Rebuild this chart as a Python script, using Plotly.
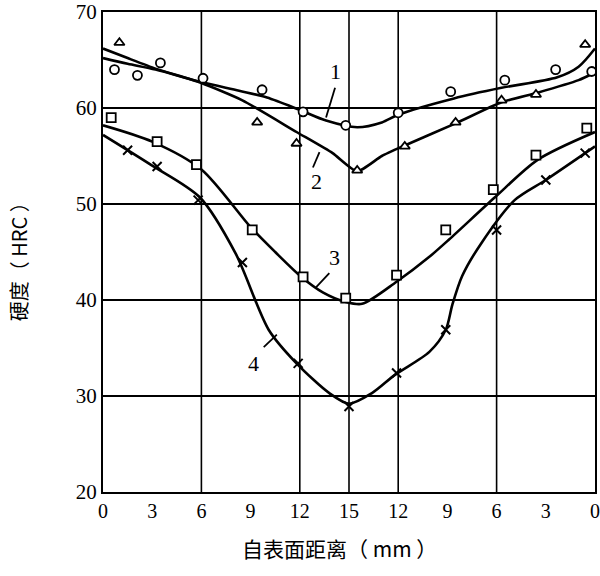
import plotly.graph_objects as go

# ---- data ----
tick_pos = [0, 3, 6, 9, 12, 15, 18, 21, 24, 27, 30]
tick_text = ["0", "3", "6", "9", "12", "15", "12", "9", "6", "3", "0"]
grid_x = [6, 12, 15, 18, 24]

# fitted curves
c1_x = [0, 1.5, 3.2, 6, 8.3, 10, 12, 13.6, 15.5, 17, 18, 21.4, 24.3, 27.7, 29, 30]
c1_y = [65.2, 64.6, 64.0, 62.7, 61.8, 61.1, 59.8, 58.7, 58.0, 58.5, 59.3, 61.0, 62.1, 63.2, 64.3, 66.2]
c2_x = [0, 1.5, 3.2, 6, 8.5, 11.8, 14, 15.5, 17, 18.4, 21.5, 24.3, 26.5, 29, 30]
c2_y = [66.2, 65.2, 64.1, 62.6, 60.8, 57.5, 55.3, 53.4, 55.0, 56.1, 58.4, 60.6, 61.6, 62.9, 63.7]
c3_x = [0, 3, 6, 9, 10.5, 12.1, 13.4, 14.8, 15.8, 17.9, 19.9, 21.1, 23.9, 26.5, 30]
c3_y = [58.2, 56.5, 53.6, 47.6, 45.0, 42.4, 40.8, 39.8, 39.6, 41.9, 44.5, 46.3, 50.7, 54.6, 57.5]
c4_x = [0, 3, 5.9, 8.1, 10.1, 11.8, 13.8, 15.0, 16.4, 17.8, 19.9, 20.9, 21.3, 21.9, 23.1, 25.1, 27, 30]
c4_y = [57.2, 54.0, 50.7, 44.8, 36.9, 33.4, 30.3, 29.2, 30.3, 32.2, 34.6, 36.9, 39.5, 42.5, 46.0, 50.4, 52.5, 56.0]

# measured points
circ_x = [0.7, 2.1, 3.5, 6.1, 9.7, 12.2, 14.8, 18.0, 21.2, 24.5, 27.6, 29.8]
circ_y = [64.0, 63.4, 64.7, 63.1, 61.9, 59.6, 58.2, 59.5, 61.7, 62.9, 64.0, 63.8]
tri_x = [1.0, 9.4, 11.8, 15.5, 18.4, 21.5, 24.3, 26.4, 29.4]
tri_y = [66.8, 58.5, 56.3, 53.5, 56.0, 58.5, 60.8, 61.4, 66.6]
sq_x = [0.5, 3.3, 5.7, 9.1, 12.2, 14.8, 17.9, 20.9, 23.8, 26.4, 29.5]
sq_y = [59.0, 56.5, 54.1, 47.3, 42.4, 40.2, 42.6, 47.3, 51.5, 55.1, 57.9]
xm_x = [1.5, 3.3, 5.8, 8.5, 11.9, 15.0, 17.9, 20.9, 24.0, 27.0, 29.4]
xm_y = [55.6, 53.9, 50.4, 43.9, 33.4, 28.9, 32.4, 36.9, 47.3, 52.5, 55.3]

# curve labels: (text, text x, text y, leader x0, y0, x1, y1)
labels = [
    ("1", 14.2, 63.8, 14.15, 62.1, 13.6, 59.0),
    ("2", 13.0, 52.3, 12.8, 53.8, 13.2, 55.4),
    ("3", 14.1, 44.4, 13.8, 42.8, 13.0, 41.35),
    ("4", 9.2, 33.4, 9.8, 35.1, 10.6, 36.4),
]

fig = go.Figure()
curves = [(c1_x, c1_y, 0.8), (c2_x, c2_y, 0.55), (c3_x, c3_y, 0.8), (c4_x, c4_y, 0.8)]
for cx, cy, sm in curves:
    fig.add_trace(go.Scatter(x=cx, y=cy, mode="lines",
                             line=dict(color="black", width=2.6, shape="spline", smoothing=sm),
                             showlegend=False, hoverinfo="skip"))

mk = dict(color="white", size=9, line=dict(color="black", width=1.8))
fig.add_trace(go.Scatter(x=circ_x, y=circ_y, mode="markers",
                         marker=dict(symbol="circle", **mk), showlegend=False))
fig.add_trace(go.Scatter(x=tri_x, y=tri_y, mode="markers",
                         marker=dict(symbol="triangle-up", **mk), showlegend=False))
fig.add_trace(go.Scatter(x=sq_x, y=sq_y, mode="markers",
                         marker=dict(symbol="square", **mk), showlegend=False))
fig.add_trace(go.Scatter(x=xm_x, y=xm_y, mode="markers",
                         marker=dict(symbol="x-thin", size=9, color="black",
                                     line=dict(color="black", width=2)), showlegend=False))

shapes = []
for gx in grid_x:
    shapes.append(dict(type="line", xref="x", yref="paper", x0=gx, x1=gx, y0=0, y1=1,
                       line=dict(color="black", width=1.6), layer="below"))
annotations = []
for t, tx, ty, lx0, ly0, lx1, ly1 in labels:
    annotations.append(dict(x=tx, y=ty, xref="x", yref="y", text=t, showarrow=False,
                            font=dict(family="Liberation Serif", size=22, color="black")))
    shapes.append(dict(type="line", xref="x", yref="y", x0=lx0, y0=ly0, x1=lx1, y1=ly1,
                       line=dict(color="black", width=1.8)))

annotations.append(dict(x=-0.172, y=0.49, xref="paper", yref="paper", text="硬度（ HRC ）",
                        textangle=-90, showarrow=False, xanchor="center", yanchor="middle",
                        font=dict(family="Noto Sans CJK SC", size=20, color="black")))
annotations.append(dict(x=0.48, y=-0.117, xref="paper", yref="paper", text="自表面距离（ mm ）",
                        showarrow=False, xanchor="center", yanchor="middle",
                        font=dict(family="Noto Sans CJK SC", size=21, color="black")))

fig.update_layout(
    width=600, height=576,
    margin=dict(l=103, r=5, t=12, b=84, autoexpand=False),
    paper_bgcolor="white", plot_bgcolor="white",
    shapes=shapes, annotations=annotations,
    xaxis=dict(range=[0, 30], tickvals=tick_pos, ticktext=tick_text, showgrid=False,
               zeroline=False, showline=True, mirror=True, linecolor="black", linewidth=2,
               automargin=False, ticklabeloverflow="allow",
               ticks="", tickfont=dict(family="Liberation Serif", size=20, color="black")),
    yaxis=dict(range=[20, 70], dtick=10, tick0=20, showgrid=True, gridcolor="black", gridwidth=1.6,
               zeroline=False, showline=True, mirror=True, linecolor="black", linewidth=2,
               automargin=False, ticklabeloverflow="allow",
               ticks="inside", ticklen=4, tickcolor="black",
               tickfont=dict(family="Liberation Serif", size=21, color="black")),
)

fig.write_html("out.html", config={"displayModeBar": False},
               post_script="document.body.style.margin='0';")
